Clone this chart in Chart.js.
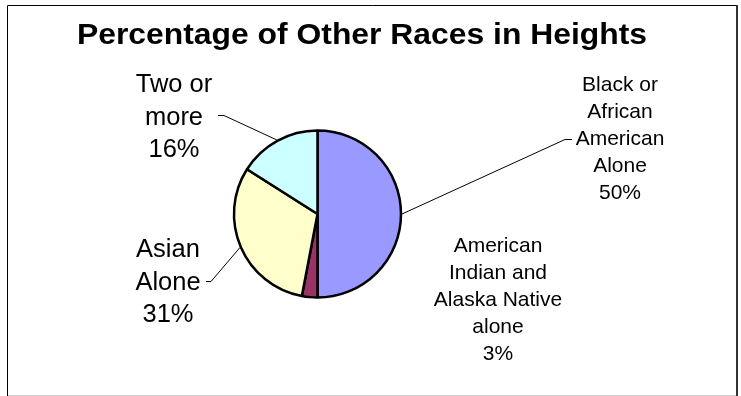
<!DOCTYPE html>
<html>
<head>
<meta charset="utf-8">
<script src="https://cdn.jsdelivr.net/npm/chart.js@4/dist/chart.umd.min.js"></script>
<style>
  html, body { margin: 0; padding: 0; background: #fff; }
  #wrap { width: 741px; height: 396px; position: relative; }
</style>
</head>
<body>
<div id="wrap"><canvas id="c" width="741" height="396"></canvas></div>
<script>
// Chart data
const chartTitle = 'Percentage of Other Races in Heights';
const categories = [
  'Black or African American Alone',
  'American Indian and Alaska Native alone',
  'Asian Alone',
  'Two or more'
];
// How each category name wraps inside its data label
const categoryLines = [
  ['Black or', 'African', 'American', 'Alone'],
  ['American', 'Indian and', 'Alaska Native', 'alone'],
  ['Asian', 'Alone'],
  ['Two or', 'more']
];
const percentages = [50, 3, 31, 16];
const sliceColors = ['#9999FF', '#993366', '#FFFFCC', '#CCFFFF'];

const FONT = "'Liberation Sans', Arial, Helvetica, sans-serif";

// Data label placement: text centre x, first baseline, font size, line height,
// and optional leader line end (where the short horizontal tick begins).
const labelLayout = [
  { x: 620, y: 91,  size: 21,   lh: 27,   leader: { x: 565, y: 139, tick: 7 } },
  { x: 498, y: 252, size: 21,   lh: 27,   leader: null },
  { x: 168, y: 257, size: 25.5, lh: 32.5, leader: { x: 211, y: 281, tick: -5 } },
  { x: 174, y: 92,  size: 25.5, lh: 32.5, leader: { x: 224, y: 115, tick: -6 } }
];

// Frame, title, leader lines and data labels
const decorations = {
  id: 'decorations',
  afterDraw(chart) {
    const ctx = chart.ctx;
    ctx.save();

    // outer frame
    ctx.strokeStyle = '#000';
    ctx.lineWidth = 1;
    ctx.beginPath();
    ctx.moveTo(7.5, 396);
    ctx.lineTo(7.5, 5.5);
    ctx.lineTo(737, 5.5);
    ctx.stroke();
    ctx.strokeStyle = '#333';
    ctx.lineWidth = 2;
    ctx.beginPath();
    ctx.moveTo(737, 5);
    ctx.lineTo(737, 396);
    ctx.stroke();
    ctx.strokeStyle = '#cfcfcf';
    ctx.lineWidth = 1;
    ctx.beginPath();
    ctx.moveTo(8, 395.5);
    ctx.lineTo(736, 395.5);
    ctx.stroke();

    // title (slightly wide bold face)
    ctx.save();
    ctx.fillStyle = '#000';
    ctx.font = 'bold 29.5px ' + FONT;
    ctx.textAlign = 'center';
    ctx.textBaseline = 'alphabetic';
    ctx.translate(362, 44);
    ctx.scale(1.08, 1);
    ctx.fillText(chartTitle, 0, 0);
    ctx.restore();

    // leader lines and labels
    const meta = chart.getDatasetMeta(0);
    meta.data.forEach((arc, i) => {
      const p = arc.getProps(['x', 'y', 'startAngle', 'endAngle', 'outerRadius'], true);
      const mid = (p.startAngle + p.endAngle) / 2;
      const edgeR = p.outerRadius + 1;
      const L = labelLayout[i];
      if (L.leader) {
        ctx.strokeStyle = '#000';
        ctx.lineWidth = 1;
        ctx.beginPath();
        ctx.moveTo(p.x + Math.cos(mid) * edgeR, p.y + Math.sin(mid) * edgeR);
        ctx.lineTo(L.leader.x, L.leader.y + 0.5);
        ctx.lineTo(L.leader.x + L.leader.tick, L.leader.y + 0.5);
        ctx.stroke();
      }
      const lines = categoryLines[i].concat([percentages[i] + '%']);
      ctx.fillStyle = '#000';
      ctx.font = L.size + 'px ' + FONT;
      ctx.textAlign = 'center';
      ctx.textBaseline = 'alphabetic';
      lines.forEach((t, k) => ctx.fillText(t, L.x, L.y + k * L.lh));
    });

    ctx.restore();
  }
};

new Chart(document.getElementById('c'), {
  type: 'pie',
  data: {
    labels: categories,
    datasets: [{
      data: percentages,
      backgroundColor: sliceColors,
      borderColor: '#000',
      borderWidth: 2.5
    }]
  },
  options: {
    responsive: false,
    animation: false,
    radius: 83.5,
    layout: { padding: { left: 0, right: 106, top: 32, bottom: 0 } },
    plugins: {
      legend: { display: false },
      tooltip: { enabled: false },
      title: { display: false }
    }
  },
  plugins: [decorations]
});
</script>
</body>
</html>
